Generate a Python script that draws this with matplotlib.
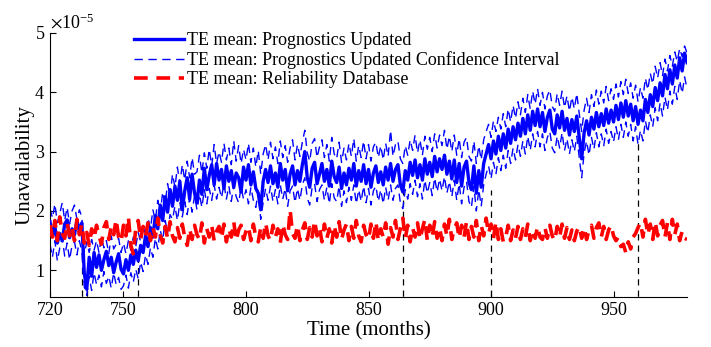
import numpy as np
import matplotlib
matplotlib.use("Agg")
import matplotlib.pyplot as plt
from matplotlib.ticker import ScalarFormatter

plt.rcParams['font.family'] = ['Liberation Serif', 'DejaVu Serif']
plt.rcParams['mathtext.fontset'] = 'stix'

# months 720..980
months = np.arange(720, 981)

# TE mean, prognostics updated (x1e-5)
te_mean = [
    1.82, 1.58, 1.74, 1.46, 1.62, 1.50, 1.78, 1.85, 1.55, 1.70,
    1.60, 1.84, 1.66, 1.80, 0.95, 0.68, 1.22, 0.90, 1.30, 1.05,
    1.26, 1.00, 1.18, 1.32, 1.08, 1.22, 0.96, 1.14, 1.28, 1.02,
    0.94, 1.18, 1.00, 1.26, 1.10, 1.34, 1.16, 1.42, 1.30, 1.58,
    1.40, 1.72, 1.56, 1.92, 1.70, 2.10, 1.84, 2.24, 1.98, 2.36,
    2.08, 2.42, 2.18, 2.50, 2.02, 2.34, 2.56, 2.20, 2.62, 2.30,
    2.14, 2.52, 2.28, 2.72, 2.36, 2.60, 2.78, 2.44, 2.80, 2.52,
    2.70, 2.38, 2.76, 2.50, 2.68, 2.40, 2.64, 2.56, 2.32, 2.74,
    2.52, 2.78, 2.44, 2.66, 2.38, 2.30, 2.02, 2.50, 2.70, 2.48,
    2.76, 2.46, 2.64, 2.40, 2.80, 2.52, 2.70, 2.34, 2.62, 2.76,
    2.44, 2.68, 2.50, 2.78, 3.00, 2.56, 2.40, 2.72, 2.82, 2.46,
    2.62, 2.80, 2.50, 2.70, 2.42, 2.84, 2.58, 2.48, 2.74, 2.38,
    2.64, 2.44, 2.72, 2.52, 2.80, 2.42, 2.68, 2.50, 2.78, 2.46,
    2.70, 2.40, 2.64, 2.76, 2.48, 2.66, 2.44, 2.74, 2.52, 2.80,
    2.50, 2.70, 2.78, 2.44, 2.32, 2.68, 2.52, 2.82, 2.60, 2.86,
    2.56, 2.78, 2.52, 2.88, 2.62, 2.82, 2.58, 2.92, 2.66, 2.88,
    2.70, 2.94, 2.62, 2.84, 2.54, 2.86, 2.48, 2.80, 2.42, 2.74,
    2.84, 2.48, 2.36, 2.76, 2.30, 2.68, 2.40, 2.80, 2.96, 3.12,
    2.88, 3.18, 2.96, 3.26, 3.02, 3.30, 3.06, 3.38, 3.14, 3.42,
    3.20, 3.48, 3.26, 3.56, 3.30, 3.62, 3.36, 3.68, 3.44, 3.72,
    3.42, 3.66, 3.34, 3.58, 3.70, 3.38, 3.30, 3.62, 3.40, 3.68,
    3.36, 3.56, 3.28, 3.54, 3.34, 3.60, 3.24, 2.88, 3.32, 3.52,
    3.28, 3.58, 3.38, 3.66, 3.42, 3.64, 3.44, 3.72, 3.48, 3.70,
    3.50, 3.78, 3.54, 3.82, 3.58, 3.86, 3.60, 3.80, 3.52, 3.76,
    3.46, 3.70, 3.52, 3.88, 3.66, 3.96, 3.76, 4.08, 3.86, 4.16,
    3.94, 4.30, 4.06, 4.38, 4.14, 4.46, 4.24, 4.58, 4.36, 4.66,
    4.50,
]

# confidence interval bounds (x1e-5)
ci_upper = [
    2.04, 1.88, 2.12, 1.80, 1.96, 2.14, 1.84, 2.06, 1.78, 2.00,
    2.10, 1.86, 2.02, 1.90, 1.26, 1.48, 1.30, 1.52, 1.34, 1.50,
    1.30, 1.56, 1.38, 1.50, 1.28, 1.58, 1.36, 1.44, 1.54, 1.30,
    1.46, 1.28, 1.50, 1.34, 1.56, 1.40, 1.64, 1.48, 1.76, 1.60,
    1.88, 1.70, 2.02, 1.84, 2.18, 1.96, 2.32, 2.12, 2.46, 2.24,
    2.62, 2.40, 2.74, 2.46, 2.78, 2.52, 2.84, 2.56, 2.90, 2.62,
    2.66, 2.94, 2.64, 2.98, 2.72, 3.04, 2.76, 3.12, 2.80, 3.00,
    2.82, 3.14, 2.86, 3.06, 2.78, 3.18, 2.84, 3.10, 2.80, 3.04,
    2.86, 3.14, 2.82, 3.06, 2.74, 3.02, 2.62, 2.96, 3.12, 2.86,
    3.16, 2.88, 3.08, 2.80, 3.18, 2.90, 3.10, 2.82, 3.06, 3.20,
    2.86, 3.12, 2.92, 3.16, 3.36, 2.98, 2.84, 3.14, 3.22, 2.90,
    3.08, 3.20, 2.90, 3.12, 2.84, 3.24, 2.96, 2.88, 3.16, 2.82,
    3.06, 2.86, 3.14, 2.92, 3.22, 2.84, 3.10, 2.90, 3.18, 2.88,
    3.12, 2.84, 3.08, 3.16, 2.90, 3.10, 2.86, 3.14, 2.92, 3.36,
    2.92, 3.12, 3.18, 2.88, 2.80, 3.10, 2.94, 3.20, 3.02, 3.28,
    2.98, 3.20, 2.94, 3.26, 3.04, 3.24, 3.00, 3.30, 3.06, 3.28,
    3.10, 3.36, 3.04, 3.26, 3.00, 3.28, 2.94, 3.22, 2.90, 3.16,
    3.24, 2.92, 2.84, 3.18, 2.80, 3.10, 2.86, 3.20, 3.34, 3.46,
    3.24, 3.52, 3.34, 3.58, 3.38, 3.64, 3.42, 3.72, 3.50, 3.78,
    3.56, 3.84, 3.62, 3.90, 3.66, 3.96, 3.72, 4.02, 3.80, 4.06,
    3.78, 4.00, 3.72, 3.94, 4.04, 3.76, 3.68, 3.98, 3.78, 4.02,
    3.74, 3.94, 3.68, 3.92, 3.72, 3.98, 3.64, 3.34, 3.70, 3.90,
    3.66, 3.96, 3.76, 4.04, 3.80, 4.02, 3.82, 4.10, 3.86, 4.06,
    3.88, 4.14, 3.92, 4.18, 3.96, 4.22, 3.98, 4.16, 3.90, 4.12,
    3.84, 4.08, 3.90, 4.24, 4.04, 4.32, 4.14, 4.44, 4.24, 4.50,
    4.28, 4.56, 4.36, 4.62, 4.44, 4.68, 4.52, 4.74, 4.60, 4.78,
    4.66,
]

ci_lower = [
    1.44, 1.22, 1.50, 1.16, 1.38, 1.54, 1.24, 1.46, 1.18, 1.42,
    1.48, 1.26, 1.50, 1.32, 0.72, 0.58, 0.90, 0.66, 0.96, 0.76,
    0.92, 0.72, 0.98, 0.78, 0.90, 0.70, 0.96, 0.76, 0.88, 0.68,
    0.74, 0.92, 0.70, 0.96, 0.80, 1.02, 0.86, 1.14, 0.98, 1.26,
    1.10, 1.38, 1.22, 1.54, 1.36, 1.68, 1.50, 1.84, 1.64, 1.94,
    1.86, 2.08, 1.84, 2.14, 1.90, 2.16, 1.94, 2.22, 1.98, 2.26,
    2.02, 2.28, 2.06, 2.36, 2.12, 2.38, 2.18, 2.44, 2.20, 2.40,
    2.22, 2.46, 2.20, 2.42, 2.16, 2.44, 2.24, 2.14, 2.40, 2.20,
    2.36, 2.12, 2.40, 2.18, 2.06, 2.34, 1.86, 2.14, 2.38, 2.18,
    2.42, 2.16, 2.36, 2.12, 2.44, 2.20, 2.38, 2.08, 2.34, 2.42,
    2.14, 2.38, 2.18, 2.44, 2.56, 2.22, 2.10, 2.40, 2.46, 2.16,
    2.36, 2.44, 2.18, 2.40, 2.12, 2.46, 2.22, 2.16, 2.42, 2.08,
    2.34, 2.14, 2.40, 2.18, 2.44, 2.12, 2.36, 2.16, 2.42, 2.14,
    2.38, 2.10, 2.34, 2.42, 2.16, 2.36, 2.12, 2.40, 2.18, 2.44,
    2.18, 2.38, 2.44, 2.14, 2.04, 2.36, 2.20, 2.46, 2.28, 2.52,
    2.24, 2.46, 2.20, 2.52, 2.30, 2.48, 2.26, 2.56, 2.32, 2.54,
    2.34, 2.58, 2.30, 2.50, 2.24, 2.52, 2.18, 2.46, 2.12, 2.40,
    2.50, 2.16, 2.06, 2.42, 2.00, 2.36, 2.08, 2.44, 2.62, 2.76,
    2.54, 2.82, 2.62, 2.90, 2.68, 2.94, 2.72, 3.02, 2.80, 3.06,
    2.86, 3.12, 2.92, 3.18, 2.96, 3.26, 3.02, 3.30, 3.08, 3.34,
    3.08, 3.30, 3.02, 3.24, 3.34, 3.06, 2.98, 3.26, 3.06, 3.32,
    3.02, 3.22, 2.96, 3.20, 3.00, 3.26, 2.90, 2.56, 2.98, 3.18,
    2.94, 3.24, 3.04, 3.32, 3.08, 3.30, 3.10, 3.38, 3.14, 3.34,
    3.16, 3.42, 3.20, 3.46, 3.24, 3.50, 3.26, 3.46, 3.18, 3.42,
    3.12, 3.36, 3.18, 3.52, 3.32, 3.62, 3.42, 3.74, 3.52, 3.82,
    3.60, 3.92, 3.70, 4.02, 3.80, 4.10, 3.88, 4.20, 3.98, 4.26,
    4.06,
]

# TE mean, reliability database (x1e-5)
te_db = [
    1.76, 1.56, 1.84, 1.50, 1.90, 1.62, 1.54, 1.80, 1.58, 1.72,
    1.50, 1.86, 1.60, 1.78, 1.46, 1.64, 1.42, 1.70, 1.54, 1.76,
    1.58, 1.44, 1.72, 1.82, 1.52, 1.74, 1.60, 1.86, 1.56, 1.48,
    1.76, 1.58, 1.90, 1.42, 1.28, 1.70, 1.84, 1.52, 1.74, 1.58,
    1.80, 1.50, 1.72, 1.56, 1.88, 1.60, 1.46, 1.74, 1.54, 1.82,
    1.58, 1.48, 1.72, 1.54, 1.78, 1.56, 1.42, 1.70, 1.52, 1.76,
    1.60, 1.52, 1.80, 1.46, 1.70, 1.56, 1.76, 1.50, 1.66, 1.74,
    1.54, 1.78, 1.48, 1.70, 1.56, 1.82, 1.50, 1.68, 1.76, 1.52,
    1.66, 1.74, 1.50, 1.78, 1.56, 1.48, 1.72, 1.54, 1.80, 1.58,
    1.50, 1.76, 1.56, 1.70, 1.46, 1.78, 1.60, 1.52, 2.02, 1.62,
    1.54, 1.76, 1.50, 1.68, 1.80, 1.52, 1.72, 1.56, 1.84, 1.58,
    1.72, 1.48, 1.78, 1.54, 1.70, 1.46, 1.76, 1.56, 1.82, 1.52,
    1.68, 1.78, 1.50, 1.74, 1.54, 1.84, 1.58, 1.48, 1.76, 1.60,
    1.52, 1.78, 1.54, 1.82, 1.50, 1.70, 1.56, 1.80, 1.44, 1.72,
    1.56, 1.84, 1.52, 1.70, 1.88, 1.54, 1.76, 1.48, 1.72, 1.56,
    1.80, 1.52, 1.70, 1.86, 1.50, 1.76, 1.56, 1.82, 1.54, 1.72,
    1.50, 1.78, 1.58, 1.86, 1.52, 1.70, 1.80, 1.54, 1.76, 1.56,
    1.82, 1.52, 1.74, 1.56, 1.84, 1.50, 1.76, 1.58, 1.88, 1.62,
    1.78, 1.54, 1.82, 1.52, 1.70, 1.48, 1.56, 1.76, 1.50, 1.68,
    1.54, 1.74, 1.52, 1.70, 1.56, 1.78, 1.50, 1.68, 1.54, 1.74,
    1.56, 1.52, 1.72, 1.54, 1.76, 1.58, 1.50, 1.74, 1.56, 1.78,
    1.54, 1.72, 1.52, 1.68, 1.50, 1.66, 1.74, 1.54, 1.72, 1.52,
    1.68, 1.76, 1.54, 1.72, 1.80, 1.56, 1.74, 1.52, 1.68, 1.76,
    1.58, 1.50, 1.56, 1.40, 1.44, 1.30, 1.48, 1.36, 1.56, 1.62,
    1.72, 1.80, 1.56, 1.86, 1.60, 1.78, 1.52, 1.82, 1.58, 1.76,
    1.84, 1.56, 1.80, 1.52, 1.86, 1.60, 1.78, 1.50, 1.66, 1.54,
    1.52,
]

# event markers (vertical dashed lines)
event_x = [733, 735, 756, 864, 900, 960]
event_top = [1.35, 1.0, 1.32, 2.36, 2.36, 3.2]

scale = 1e-5
fig = plt.figure(figsize=(7.11, 3.47), dpi=100)
ax = fig.add_axes([0.0703, 0.144, 0.896, 0.761])

for x, top in zip(event_x, event_top):
    ax.plot([x, x], [0, top * scale], color='k', lw=0.9, ls=(0, (5, 4)), zorder=1)

ax.plot(months, np.array(te_mean) * scale, color='#0000ff', lw=2.4,
        label='TE mean: Prognostics Updated', zorder=3)
ax.plot(months, np.array(ci_upper) * scale, color='#0000ff', lw=1.0, ls=(0, (6, 4)),
        label='TE mean: Prognostics Updated Confidence Interval', zorder=2)
ax.plot(months, np.array(ci_lower) * scale, color='#0000ff', lw=1.0, ls=(0, (6, 4)), zorder=2)
ax.plot(months, np.array(te_db) * scale, color='#ff0000', lw=2.6, ls=(0, (3.8, 2.4)),
        label='TE mean: Reliability Database', zorder=4)

ax.set_xlim(720, 980)
ax.set_ylim(0.55e-5, 5e-5)
ax.set_xticks([720, 750, 800, 850, 900, 950])
ax.set_yticks(np.array([1, 2, 3, 4, 5]) * scale)
fmt = ScalarFormatter(useMathText=True)
fmt.set_powerlimits((0, 0))
ax.yaxis.set_major_formatter(fmt)
ax.yaxis.get_offset_text().set_fontsize(13)

ax.spines['top'].set_visible(False)
ax.spines['right'].set_visible(False)
ax.tick_params(direction='in', length=4, labelsize=13, width=0.8)

ax.set_xlabel('Time (months)', fontsize=15, labelpad=2)
ax.set_ylabel('Unavailability', fontsize=15, labelpad=0)

ax.legend(loc='upper left', bbox_to_anchor=(0.12, 1.03), frameon=False, fontsize=13,
          handlelength=2.8, handletextpad=0.15, labelspacing=0.12, borderaxespad=0)

fig.savefig('out.png', dpi=100)
